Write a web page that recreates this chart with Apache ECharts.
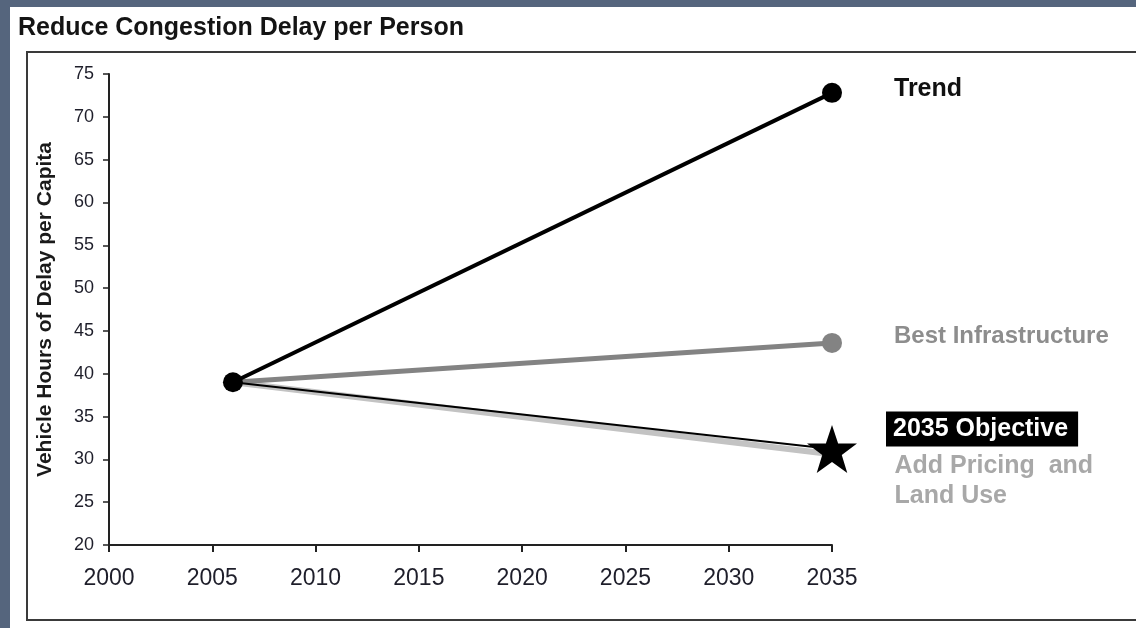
<!DOCTYPE html>
<html>
<head>
<meta charset="utf-8">
<script src="https://cdn.jsdelivr.net/npm/echarts@6/dist/echarts.min.js"></script>
<style>
  html, body { margin: 0; padding: 0; background: #55657d; }
  #chart { width: 1136px; height: 628px; }
</style>
</head>
<body>
<div id="chart"></div>
<script>
// Years and per-capita delay (vehicle hours) for each scenario
const years = [2006, 2035];
const trend = [39, 72.8];
const bestInfrastructure = [39, 43.6];
const pricingLandUse = [39, 30.6];
const objective2035 = [39, 31.2];

const xTicks = { min: 2000, max: 2035, interval: 5 };
const yTicks = { min: 20, max: 75, interval: 5 };

const FONT = '"Liberation Sans", Arial, sans-serif';
const STAR = 'path://M50,0 L61.8,35.1 L98.1,35.1 L68.8,56.8 L79.4,91 L50,70 L20.6,91 L31.2,56.8 L1.9,35.1 L38.2,35.1 Z';

const chart = echarts.init(document.getElementById('chart'));

// end-of-line label on the last point of a series
function endItem(values, i, label) {
  const item = { value: [years[i], values[i]] };
  if (i === years.length - 1) item.label = Object.assign({ show: true, position: 'right', fontWeight: 'bold', fontFamily: FONT }, label);
  return item;
}

chart.setOption({
  backgroundColor: '#55657d',
  animation: false,
  textStyle: { fontFamily: FONT },
  graphic: [
    { type: 'rect', z: -10, shape: { x: 10, y: 7, width: 1130, height: 625 }, style: { fill: '#ffffff' } },
    { type: 'rect', z: -9, shape: { x: 27, y: 52, width: 1120, height: 568 }, style: { fill: '#ffffff', stroke: '#3a3a3a', lineWidth: 2 } },
    { type: 'text', z: 5, left: 18, top: 16, style: { text: 'Reduce Congestion Delay per Person', font: 'bold 25px ' + FONT, fill: '#141414' } }
  ],
  grid: { left: 109, right: 304, top: 74, bottom: 83 },
  xAxis: {
    type: 'value',
    min: xTicks.min, max: xTicks.max, interval: xTicks.interval,
    axisLine: { lineStyle: { color: '#222', width: 2 } },
    axisTick: { show: true, length: 7, lineStyle: { color: '#222', width: 2 } },
    axisLabel: { color: '#1e1e2a', fontSize: 23, margin: 22, fontFamily: FONT, formatter: v => String(v) },
    splitLine: { show: false }
  },
  yAxis: {
    type: 'value',
    min: yTicks.min, max: yTicks.max, interval: yTicks.interval,
    name: 'Vehicle Hours of Delay per Capita',
    nameLocation: 'middle',
    nameGap: 53,
    nameRotate: 90,
    nameTextStyle: { fontSize: 21, fontWeight: 'bold', color: '#1a1a1a', fontFamily: FONT },
    axisLine: { show: true, lineStyle: { color: '#222', width: 2 } },
    axisTick: { show: true, length: 6, lineStyle: { color: '#222', width: 1.5 } },
    axisLabel: { color: '#1e1e2a', fontSize: 18, margin: 15, fontFamily: FONT },
    splitLine: { show: false }
  },
  series: [
    {
      name: 'Add Pricing and Land Use',
      type: 'line',
      z: 2,
      symbol: 'circle',
      symbolSize: 1,
      showSymbol: true,
      itemStyle: { color: 'rgba(0,0,0,0)' },
      lineStyle: { color: '#c3c3c3', width: 6 },
      data: years.map((y, i) => endItem(pricingLandUse, i, {
        distance: 62, offset: [0, 27],
        formatter: 'Add Pricing  and\nLand Use',
        color: '#a8a8a8', fontSize: 25, lineHeight: 30
      }))
    },
    {
      name: 'Best Infrastructure',
      type: 'line',
      z: 3,
      symbol: 'circle',
      symbolSize: 20,
      lineStyle: { color: '#838383', width: 5 },
      itemStyle: { color: '#838383' },
      data: years.map((y, i) => {
        const item = endItem(bestInfrastructure, i, {
          distance: 52, offset: [0, -7],
          formatter: 'Best Infrastructure',
          color: '#8d8d8d', fontSize: 24
        });
        if (i === 0) item.symbol = 'none';
        return item;
      })
    },
    {
      name: '2035 Objective',
      type: 'line',
      z: 4,
      symbol: STAR,
      symbolSize: [50, 48],
      lineStyle: { color: '#000', width: 2 },
      itemStyle: { color: '#000' },
      data: years.map((y, i) => {
        const item = endItem(objective2035, i, {
          distance: 29, offset: [0, -20],
          formatter: '2035 Objective',
          color: '#ffffff', backgroundColor: '#000000',
          padding: [6, 10, 4, 7],
          fontSize: 25
        });
        if (i === 0) item.symbol = 'none';
        return item;
      })
    },
    {
      name: 'Trend',
      type: 'line',
      z: 5,
      symbol: 'circle',
      symbolSize: 20,
      lineStyle: { color: '#000', width: 4 },
      itemStyle: { color: '#000' },
      data: years.map((y, i) => endItem(trend, i, {
        distance: 52, offset: [0, -4],
        formatter: 'Trend',
        color: '#111', fontSize: 25
      }))
    }
  ]
});
</script>
</body>
</html>
